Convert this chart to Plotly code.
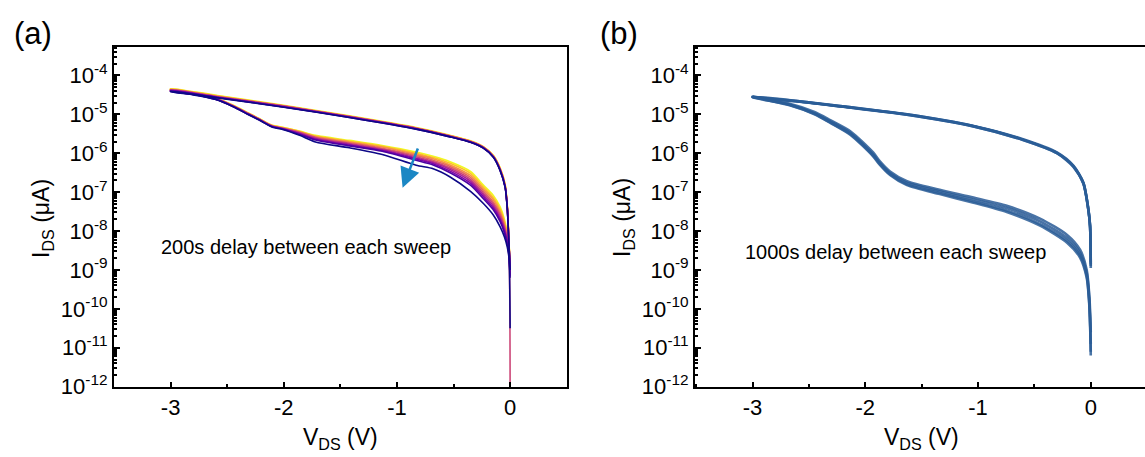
import numpy as np
import plotly.graph_objects as go

# ---------------- Panel (a): 9 sweeps, 200 s delay (log10 of I_DS) ----------------
a_upper_V = [-3.0, -2.6, -2.0, -1.42, -0.83, -0.53, -0.35, -0.236, -0.147, -0.088, -0.044, -0.024, -0.012, 0.0]
a_lower_V = [-3.0, -2.8, -2.6, -2.45, -2.31, -2.22, -2.16, -2.10, -2.01, -1.86, -1.72, -1.42, -1.13,
             -0.83, -0.68, -0.53, -0.35, -0.236, -0.15, -0.088, -0.05, -0.025, -0.01, 0.0]

a_s1_up = [-4.34, -4.51, -4.77, -5.04, -5.34, -5.54, -5.68, -5.83, -6.06, -6.38, -6.80, -7.38, -8.15, -8.90]
a_s2_up = [-4.35, -4.52, -4.78, -5.05, -5.35, -5.55, -5.69, -5.84, -6.07, -6.39, -6.81, -7.40, -8.17, -8.92]
a_s3_up = [-4.36, -4.53, -4.78, -5.05, -5.35, -5.55, -5.69, -5.84, -6.08, -6.40, -6.82, -7.41, -8.18, -8.94]
a_s4_up = [-4.37, -4.54, -4.79, -5.06, -5.36, -5.56, -5.70, -5.85, -6.08, -6.41, -6.84, -7.42, -8.20, -8.95]
a_s5_up = [-4.37, -4.54, -4.79, -5.06, -5.36, -5.56, -5.70, -5.85, -6.09, -6.42, -6.85, -7.43, -8.21, -8.96]
a_s6_up = [-4.38, -4.55, -4.80, -5.07, -5.37, -5.57, -5.71, -5.86, -6.09, -6.43, -6.86, -7.44, -8.22, -8.97]
a_s7_up = [-4.39, -4.56, -4.81, -5.07, -5.37, -5.57, -5.71, -5.86, -6.10, -6.43, -6.86, -7.45, -8.23, -8.98]
a_s8_up = [-4.40, -4.56, -4.81, -5.08, -5.38, -5.58, -5.72, -5.87, -6.10, -6.44, -6.87, -7.46, -8.24, -8.99]
a_s9_up = [-4.41, -4.57, -4.82, -5.08, -5.38, -5.58, -5.72, -5.87, -6.11, -6.45, -6.88, -7.47, -8.25, -9.00]

a_s1_down = [-4.36, -4.45, -4.58, -4.76, -4.97, -5.10, -5.20, -5.28, -5.33,
             -5.43, -5.54, -5.67, -5.80, -5.97, -6.08, -6.22, -6.47, -6.82, -7.08, -7.38, -7.70, -8.06, -8.45, -8.90]
a_s2_down = [-4.37, -4.46, -4.59, -4.77, -4.98, -5.11, -5.21, -5.29, -5.34,
             -5.44, -5.56, -5.69, -5.82, -6.00, -6.11, -6.26, -6.52, -6.87, -7.14, -7.44, -7.76, -8.10, -8.50, -8.95]
a_s3_down = [-4.38, -4.46, -4.59, -4.77, -4.98, -5.11, -5.21, -5.30, -5.35,
             -5.45, -5.57, -5.71, -5.84, -6.03, -6.14, -6.30, -6.57, -6.92, -7.19, -7.50, -7.81, -8.15, -8.52, -9.00]
a_s4_down = [-4.38, -4.47, -4.60, -4.78, -4.99, -5.12, -5.22, -5.30, -5.36,
             -5.46, -5.59, -5.73, -5.87, -6.06, -6.18, -6.34, -6.62, -6.97, -7.25, -7.55, -7.86, -8.19, -8.55, -9.05]
a_s5_down = [-4.39, -4.47, -4.60, -4.78, -4.99, -5.12, -5.22, -5.31, -5.36,
             -5.47, -5.60, -5.75, -5.89, -6.09, -6.21, -6.38, -6.67, -7.02, -7.30, -7.60, -7.91, -8.22, -8.58, -12.0]
a_s6_down = [-4.40, -4.48, -4.61, -4.79, -5.00, -5.13, -5.23, -5.31, -5.37,
             -5.49, -5.62, -5.77, -5.91, -6.12, -6.24, -6.42, -6.72, -7.07, -7.35, -7.66, -7.95, -8.25, -8.60, -9.10]
a_s7_down = [-4.40, -4.49, -4.61, -4.79, -5.00, -5.13, -5.23, -5.32, -5.37,
             -5.50, -5.64, -5.79, -5.93, -6.15, -6.27, -6.46, -6.77, -7.12, -7.40, -7.71, -8.00, -8.28, -8.62, -9.15]
a_s8_down = [-4.41, -4.49, -4.62, -4.80, -5.01, -5.14, -5.24, -5.32, -5.38,
             -5.52, -5.66, -5.81, -5.95, -6.18, -6.30, -6.50, -6.82, -7.17, -7.45, -7.76, -8.05, -8.31, -8.65, -9.20]
a_s9_down = [-4.42, -4.50, -4.62, -4.80, -5.01, -5.14, -5.24, -5.33, -5.39,
             -5.54, -5.71, -5.86, -6.03, -6.31, -6.40, -6.61, -6.98, -7.29, -7.58, -7.89, -8.15, -8.41, -8.70, -10.5]

a_colors = ['#f0f921', '#fdc328', '#f89441', '#e56b5d', '#cc4778', '#a92395', '#7e03a8', '#4c02a1', '#0d0887']

# arrow (direction of successive sweeps)
arrow_tail_V, arrow_tail_I = -0.81, 1.45e-6
arrow_head_V, arrow_head_I = -0.95, 1.3e-7

# ---------------- Panel (b): 4 sweeps, 1000 s delay ----------------
b_upper_V = [-3.0, -2.6, -2.22, -1.63, -1.04, -0.60, -0.30, -0.154, -0.066, -0.021, -0.006, 0.0]
b_lower_V = [-3.0, -2.67, -2.45, -2.31, -2.13, -1.93, -1.87, -1.78, -1.63, -1.34, -1.04, -0.745,
             -0.45, -0.21, -0.095, -0.036, -0.012, 0.0]

b_s1_up = [-4.55, -4.66, -4.79, -5.00, -5.30, -5.65, -5.99, -6.33, -6.76, -7.45, -7.88, -8.90]
b_s2_up = [-4.56, -4.67, -4.80, -5.01, -5.31, -5.66, -6.00, -6.35, -6.78, -7.47, -7.90, -8.85]
b_s3_up = [-4.55, -4.66, -4.80, -5.00, -5.30, -5.64, -5.98, -6.32, -6.75, -7.44, -7.86, -8.80]
b_s4_up = [-4.56, -4.67, -4.79, -5.01, -5.31, -5.66, -6.00, -6.34, -6.77, -7.46, -7.89, -8.95]

b_s1_down = [-4.55, -4.75, -4.97, -5.18, -5.48, -6.03, -6.25, -6.51, -6.76, -6.98, -7.19, -7.41,
             -7.75, -8.18, -8.56, -9.08, -9.80, -11.20]
b_s2_down = [-4.55, -4.73, -4.94, -5.15, -5.44, -5.98, -6.21, -6.47, -6.72, -6.94, -7.14, -7.35,
             -7.68, -8.10, -8.48, -9.00, -9.70, -10.60]
b_s3_down = [-4.56, -4.76, -4.99, -5.21, -5.51, -6.06, -6.28, -6.54, -6.80, -7.02, -7.24, -7.47,
             -7.82, -8.25, -8.63, -9.15, -9.90, -10.90]
b_s4_down = [-4.56, -4.77, -5.00, -5.22, -5.53, -6.08, -6.30, -6.56, -6.82, -7.05, -7.27, -7.51,
             -7.86, -8.30, -8.68, -9.20, -9.95, -11.10]
b_color = '#2b5d97'

# tick labels
x_tickvals = [-3, -2, -1, 0]
x_ticktext = ['-3', '-2', '-1', '0']
y_exponents = [-12, -11, -10, -9, -8, -7, -6, -5, -4]
y_ticktext = ['10<sup>%d</sup>' % e for e in y_exponents]
y_tickvals = [10.0 ** e for e in y_exponents]

FONT = 'Arial, Liberation Sans, sans-serif'

fig = go.Figure()

a_sweeps = [(a_s1_up, a_s1_down), (a_s2_up, a_s2_down), (a_s3_up, a_s3_down),
            (a_s4_up, a_s4_down), (a_s5_up, a_s5_down), (a_s6_up, a_s6_down),
            (a_s7_up, a_s7_down), (a_s8_up, a_s8_down), (a_s9_up, a_s9_down)]
for (up, down), col in zip(a_sweeps, a_colors):
    xs = a_upper_V[::-1] + a_lower_V
    ys = 10 ** np.array(up[::-1] + down)
    fig.add_trace(go.Scatter(x=xs, y=ys, mode='lines',
                             line=dict(color=col, width=1.6, shape='spline', smoothing=0.7),
                             showlegend=False, xaxis='x', yaxis='y'))

b_sweeps = [(b_s1_up, b_s1_down), (b_s2_up, b_s2_down), (b_s3_up, b_s3_down), (b_s4_up, b_s4_down)]
for up, down in b_sweeps:
    xs = b_upper_V[::-1] + b_lower_V
    ys = 10 ** np.array(up[::-1] + down)
    fig.add_trace(go.Scatter(x=xs, y=ys, mode='lines',
                             line=dict(color=b_color, width=2.6, shape='spline', smoothing=0.7),
                             opacity=0.85, showlegend=False, xaxis='x2', yaxis='y2'))

H = 457.0
W = 1145.0
y_dom = [(H - 386.7) / H, (H - 47.0) / H]
TICK_SIZE = 22

def xaxis_cfg(dom, rng, mirror):
    return dict(domain=dom, range=rng, tickmode='array', tickvals=x_tickvals, ticktext=x_ticktext,
                ticks='inside', ticklen=5, tickwidth=2, tickcolor='black', automargin=False,
                minor=dict(dtick=0.5, ticks='inside', ticklen=3, tickwidth=2, tickcolor='black', showgrid=False),
                showline=True, linewidth=2, linecolor='black', mirror=mirror,
                showgrid=False, zeroline=False,
                tickfont=dict(family=FONT, size=TICK_SIZE, color='black'))

def yaxis_cfg(dom, anchor, mirror):
    return dict(domain=dom, type='log', range=[-12, -3.27], anchor=anchor, automargin=False,
                tickmode='array', tickvals=y_tickvals, ticktext=y_ticktext,
                ticks='inside', ticklen=6, tickwidth=2, tickcolor='black',
                minor=dict(dtick='D1', ticks='inside', ticklen=3, tickwidth=1.5, tickcolor='black', showgrid=False),
                showline=True, linewidth=2, linecolor='black', mirror=mirror,
                showgrid=False, zeroline=False,
                tickfont=dict(family=FONT, size=TICK_SIZE, color='black'))

fig.update_layout(
    template='none',
    width=1145, height=457, autosize=False,
    margin=dict(l=0, r=0, t=0, b=0, pad=0),
    paper_bgcolor='white', plot_bgcolor='white',
    font=dict(family=FONT, color='black', size=TICK_SIZE),
    xaxis=dict(xaxis_cfg([114 / W, 566.7 / W], [-3.5, 0.5], True), anchor='y'),
    yaxis=yaxis_cfg(y_dom, 'x', True),
    xaxis2=dict(xaxis_cfg([695 / W, 1.0], [-3.51, 0.481], True), anchor='y2'),
    yaxis2=yaxis_cfg(y_dom, 'x2', False),
)

ann = []
# panel labels
ann.append(dict(text='(a)', x=33 / W, y=(H - 33) / H, xref='paper', yref='paper', showarrow=False,
                font=dict(family=FONT, size=31), xanchor='center', yanchor='middle'))
ann.append(dict(text='(b)', x=619 / W, y=(H - 33) / H, xref='paper', yref='paper', showarrow=False,
                font=dict(family=FONT, size=31), xanchor='center', yanchor='middle'))
# axis titles
for cx, cy in [(42, 218), (623, 218)]:
    ann.append(dict(text='I<sub>DS</sub> (μA)', x=cx / W, y=(H - cy) / H, xref='paper', yref='paper',
                    showarrow=False, textangle=-90, font=dict(family=FONT, size=23),
                    xanchor='center', yanchor='middle'))
for cx in [340, 921]:
    ann.append(dict(text='V<sub>DS</sub> (V)', x=cx / W, y=(H - 438) / H, xref='paper', yref='paper',
                    showarrow=False, font=dict(family=FONT, size=23), xanchor='center', yanchor='middle'))
# in-plot texts
ann.append(dict(text='200s delay between each sweep', x=-3.10, y=-8.41, xref='x', yref='y',
                showarrow=False, font=dict(family=FONT, size=20), xanchor='left', yanchor='middle'))
ann.append(dict(text='1000s delay between each sweep', x=-3.085, y=-8.55, xref='x2', yref='y2',
                showarrow=False, font=dict(family=FONT, size=20), xanchor='left', yanchor='middle'))
# arrow
ann.append(dict(text='', x=arrow_head_V, y=np.log10(arrow_head_I), ax=arrow_tail_V, ay=np.log10(arrow_tail_I),
                xref='x', yref='y', axref='x', ayref='y', showarrow=True, arrowhead=2, arrowsize=1.6,
                arrowwidth=2.5, arrowcolor='#1b87c4'))
fig.update_layout(annotations=ann)

fig.write_html('out.html', config={'displayModeBar': False},
               post_script="document.body.style.margin='0px';document.body.style.overflow='hidden';")
